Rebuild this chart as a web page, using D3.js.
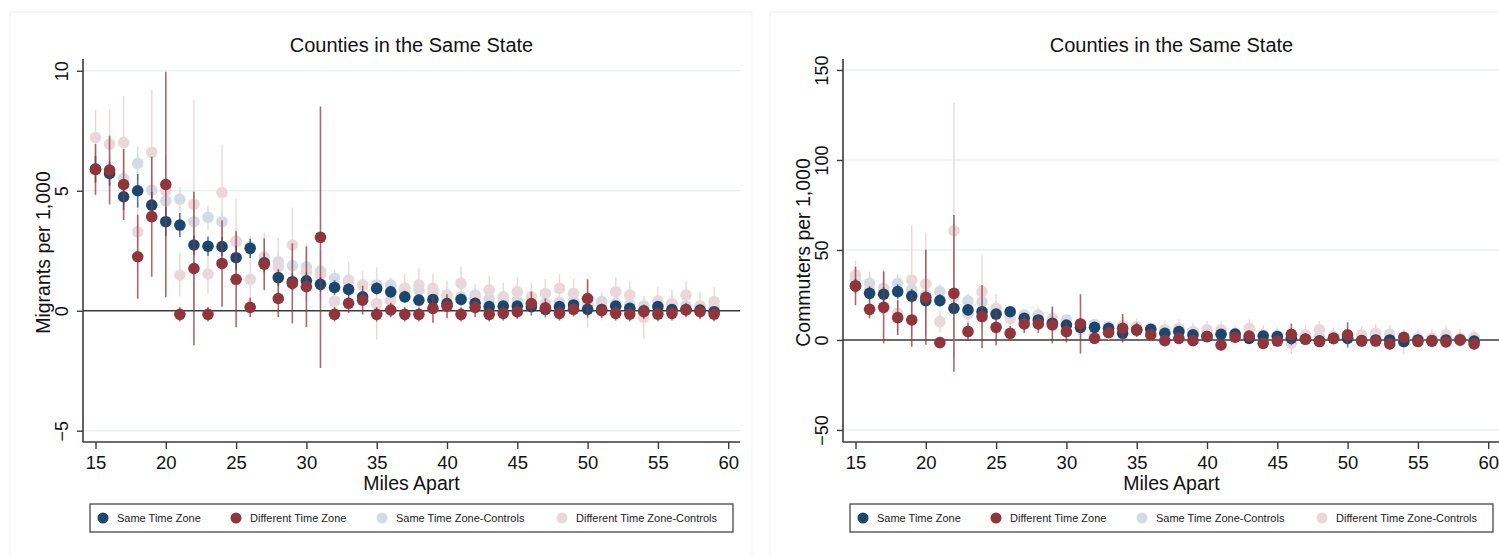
<!DOCTYPE html>
<html><head><meta charset="utf-8">
<script src="https://cdn.jsdelivr.net/npm/d3@7"></script>
<style>body{margin:0;background:#fff} svg{display:block} text{font-family:"Liberation Sans",Arial,Helvetica,sans-serif}</style>
</head><body><svg id="c" width="1499" height="556"></svg>
<script>
// ---------- DATA ----------
const miles = [15,16,17,18,19,20,21,22,23,24,25,26,27,28,29,30,31,32,33,34,35,36,37,38,39,40,41,42,43,44,45,46,47,48,49,50,51,52,53,54,55,56,57,58,59];
const xTicks = [15,20,25,30,35,40,45,50,55,60];
const seriesNames = ["Same Time Zone","Different Time Zone","Same Time Zone-Controls","Different Time Zone-Controls"];
const titleText = "Counties in the Same State";
const xTitle = "Miles Apart";

// Panel 1: Migrants per 1,000
const migYTicks = [-5,0,5,10];
const migSame     = [5.9,5.72,4.75,5.0,4.40,3.71,3.57,2.74,2.69,2.67,2.21,2.6,2.0,1.38,1.21,1.25,1.1,0.97,0.89,0.58,0.93,0.79,0.58,0.44,0.47,0.3,0.47,0.31,0.17,0.19,0.19,0.17,0.06,0.17,0.24,0.06,0.05,0.19,0.1,0.0,0.17,0.05,0.05,0.03,-0.04];
const migSameErr  = [0.55,0.5,0.55,0.7,0.55,0.6,0.5,0.4,0.4,0.4,0.5,0.4,0.4,0.35,0.35,0.35,0.3,0.3,0.25,0.25,0.25,0.25,0.25,0.25,0.2,0.2,0.25,0.2,0.2,0.2,0.2,0.2,0.2,0.2,0.2,0.2,0.2,0.2,0.2,0.2,0.2,0.2,0.2,0.2,0.2];
const migDiff     = [5.89,5.86,5.26,2.25,3.92,5.26,-0.15,1.76,-0.15,1.97,1.31,0.14,1.94,0.51,1.14,1.0,3.06,-0.15,0.31,0.44,-0.15,0.03,-0.15,-0.15,0.1,0.19,-0.15,0.14,-0.15,-0.11,-0.04,0.3,0.12,-0.11,0.06,0.51,0.0,-0.11,-0.14,-0.04,-0.14,-0.11,0.03,-0.04,-0.14];
const migDiffErr  = [1.06,1.43,1.48,1.75,2.5,4.7,0.3,3.2,0.3,1.8,2.0,0.4,1.07,0.77,1.67,1.68,5.45,0.3,0.4,0.6,0.3,0.3,0.3,0.3,0.6,0.5,0.3,0.4,0.3,0.3,0.3,0.5,0.4,0.3,0.3,0.8,0.3,0.3,0.3,0.3,0.3,0.3,0.3,0.3,0.3];
const migSameC    = [5.9,5.8,5.51,6.14,5.03,4.58,4.65,3.71,3.89,3.71,2.9,2.67,2.05,2.04,1.88,1.83,1.65,1.35,1.2,1.07,1.07,1.07,0.8,0.86,0.72,0.6,0.58,0.65,0.5,0.4,0.4,0.3,0.3,0.35,0.4,0.25,0.38,0.3,0.25,0.2,0.25,0.24,0.2,0.15,0.1];
const migSameCErr = [0.6,0.6,0.6,0.7,0.6,0.6,0.5,0.5,0.5,0.5,0.5,0.45,0.45,0.4,0.4,0.4,0.4,0.35,0.35,0.3,0.3,0.3,0.3,0.3,0.3,0.3,0.3,0.3,0.3,0.3,0.3,0.3,0.3,0.3,0.3,0.3,0.3,0.3,0.3,0.3,0.3,0.3,0.3,0.3,0.3];
const migDiffC    = [7.22,6.94,7.01,3.29,6.6,5.0,1.49,4.44,1.53,4.92,2.88,1.31,2.25,1.83,2.74,1.6,1.49,0.4,1.28,1.07,0.3,0.44,0.93,1.07,0.93,0.65,1.14,0.5,0.86,0.58,0.79,0.58,0.72,0.93,0.72,0.3,0.2,0.79,0.65,-0.28,0.4,0.3,0.65,0.2,0.38];
const migDiffCErr = [1.14,1.46,1.93,1.2,2.6,1.5,0.9,4.36,0.8,2.0,1.8,1.0,1.0,1.2,1.56,1.2,1.0,0.8,0.76,0.6,1.5,0.6,0.6,0.7,0.6,0.6,0.7,0.6,0.6,0.6,0.6,0.6,0.6,0.6,0.6,1.0,0.6,0.6,0.6,0.9,0.6,0.6,0.6,0.6,0.6];

// Panel 2: Commuters per 1,000
const comYTicks = [-50,0,50,100,150];
const comSame     = [30,25.9,25.4,26.9,24.4,21.9,21.9,17.6,16.7,15.7,14.4,15.7,12.0,11.1,9.3,8.3,7.0,7.0,6.5,3.7,5.5,5.9,3.7,4.6,2.8,1.9,3.1,3.3,0.9,2.2,1.9,0.9,0.5,-0.5,0.9,0.9,-0.3,0,0,-0.9,0,-0.4,0,0,-0.6];
const comSameErr  = [4,4,4,4,4,3.5,3.5,3,3,3,3,3,2.5,2.5,2.5,2.5,2,2,2,2,2,2,2,2,2,1.5,1.5,1.5,1.5,1.5,1.5,1.5,1.5,1.5,1.5,1.5,1.5,1.5,1.5,1.5,1.5,1.5,1.5,1.5,1.5];
const comDiff     = [30.0,17.0,18.1,12.4,11.1,23.7,-1.5,25.9,4.6,13.0,7.0,3.7,8.9,8.9,8.3,4.6,8.9,0.9,4.1,6.5,5.6,2.8,-0.4,0.9,-0.4,1.9,-2.8,1.5,2.2,-1.9,-0.6,3.1,0.4,-0.9,0.9,2.8,-0.6,-0.6,-2.2,1.5,-0.9,-0.6,-1.1,0,-2.2];
const comDiffErr  = [10.7,5,20,9.7,14.9,26.4,2,43.5,5,17.6,10,4,5,5,10.2,6,16.5,2,3,8,4,3,3,3,3,3,3,3,3,3,3,6,3,3,3,7,3,3,3,3,3,3,3,3,3];
const comSameC    = [33,31.5,28.7,31.5,28,25,26.9,24,21.7,21.1,16,15,13.9,13.9,11,11.1,9,8.5,7.5,6,7.4,6.5,5.5,5.5,4.5,4,4,3.5,3,2.5,2.6,2,1.5,1.5,1.5,1.5,1,1,1,0.5,0.8,0.5,0.5,0.5,1.5];
const comSameCErr = [5,5,5,5,5,4,4,4,4,4,3.5,3.5,3,3,3,3,3,2.5,2.5,2.5,2.5,2.5,2.5,2.5,2.5,2,2,2,2,2,2,2,2,2,2,2,2,2,2,2,2,2,2,2,2];
const comDiffC    = [36.1,28,27,14.8,33.3,31.1,10.2,60.7,14.8,26.9,17.6,12,10,12,12,9,6,3,5,8,7,4,5.6,6.5,4.6,5.6,5.6,3,6.5,3,2,-1.9,2.8,5.6,2,2,2.8,3.7,3.3,-1,1,1,2.8,1,1];
const comDiffCErr = [8,10,12,10,30.6,28.5,6,71,8,20,8,6,6,6,6,5,5,5,5,5,5,5,5,5,5,5,5,5,5,5,5,6,5,5,5,5,5,5,5,7,5,5,5,5,5];

// ---------- DRAWING ----------
const svg = d3.select("#c");
const colMain = ["#1a476f","#90353b"];
const colCtrl = ["#d3dce5","#ead7d9"];
const axisCol = "#3a3a3a";

const panels = [
  {ox:0, yDomain:[-5.47,10.49], yTicks:migYTicks, ylabel:"Migrants per 1,000",
   series:[[migSameC,migSameCErr,colCtrl[0],true],[migDiffC,migDiffCErr,colCtrl[1],true],
           [migSame,migSameErr,colMain[0],false],[migDiff,migDiffErr,colMain[1],false]]},
  {ox:760, yDomain:[-56.7,156.1], yTicks:comYTicks, ylabel:"Commuters per 1,000",
   series:[[comSameC,comSameCErr,colCtrl[0],true],[comDiffC,comDiffCErr,colCtrl[1],true],
           [comSame,comSameErr,colMain[0],false],[comDiff,comDiffErr,colMain[1],false]]}
];

panels.forEach(p => {
  const g = svg.append("g").attr("transform", `translate(${p.ox},0)`);
  g.append("rect").attr("x",10).attr("y",12).attr("width",742).attr("height",600)
    .attr("fill","none").attr("stroke","#efefef").attr("stroke-width",1);

  const axL = 83, axR = 740, axT = 59, axB = 442;
  const x = d3.scaleLinear().domain([14.11, 60.84]).range([axL, axR]);
  const y = d3.scaleLinear().domain(p.yDomain).range([axB, axT]);

  // gridlines
  g.append("g").selectAll("line").data(p.yTicks.filter(t => t !== 0)).join("line")
    .attr("x1", axL).attr("x2", axR).attr("y1", d => y(d)).attr("y2", d => y(d))
    .attr("stroke","#e9f0f2").attr("stroke-width",1.6);

  // title
  g.append("text").attr("x", (axL+axR)/2).attr("y", 51.5).attr("text-anchor","middle")
    .attr("font-size", 20).attr("fill","#111").text(titleText);

  // zero line
  g.append("line").attr("x1", axL).attr("x2", axR).attr("y1", y(0)).attr("y2", y(0))
    .attr("stroke", axisCol).attr("stroke-width", 1.6);

  // axes
  const yAxis = d3.axisLeft(y).tickValues(p.yTicks).tickSize(6).tickPadding(9).tickFormat(d3.format("d"));
  const ya = g.append("g").attr("transform", `translate(${axL},0)`).call(yAxis);
  ya.select(".domain").attr("stroke", axisCol).attr("stroke-width",1.6).attr("d", `M-0,${axT}V${axB}`);
  ya.selectAll(".tick line").attr("stroke", axisCol).attr("stroke-width",1.4);
  ya.selectAll(".tick text").attr("font-size",18).attr("fill","#111")
    .attr("text-anchor","middle").attr("x",null).attr("dy",null)
    .attr("transform","translate(-15,0) rotate(-90)").attr("y",0);

  const xAxis = d3.axisBottom(x).tickValues(xTicks).tickSize(7).tickPadding(7).tickFormat(d3.format("d"));
  const xa = g.append("g").attr("transform", `translate(0,${axB})`).call(xAxis);
  xa.select(".domain").attr("stroke", axisCol).attr("stroke-width",1.6).attr("d", `M${axL},0H${axR}`);
  xa.selectAll(".tick line").attr("stroke", axisCol).attr("stroke-width",1.4);
  xa.selectAll(".tick text").attr("font-size",18.5).attr("fill","#111").attr("dy","0.71em");

  // axis titles
  g.append("text").attr("x", (axL+axR)/2).attr("y", 490).attr("text-anchor","middle")
    .attr("font-size", 19.5).attr("fill","#111").text(xTitle);
  g.append("text").attr("transform", `translate(50,${(axT+axB)/2 + 2}) rotate(-90)`)
    .attr("text-anchor","middle").attr("font-size",19.5).attr("fill","#111").text(p.ylabel);

  // series
  p.series.forEach(([vals, errs, col, ctrl]) => {
    const pts = miles.map((m,i) => ({m, v: vals[i], e: errs[i]}));
    g.append("g").selectAll("line").data(pts).join("line")
      .attr("x1", d => x(d.m)).attr("x2", d => x(d.m))
      .attr("y1", d => y(d.v - d.e)).attr("y2", d => y(d.v + d.e))
      .attr("stroke", col).attr("stroke-width", ctrl ? 1.4 : 1.6)
      .attr("stroke-opacity", ctrl ? 1 : 0.75);
    g.append("g").selectAll("circle").data(pts).join("circle")
      .attr("cx", d => x(d.m)).attr("cy", d => y(d.v)).attr("r", 5.8).attr("fill", col);
  });

  // legend
  const lg = g.append("g");
  lg.append("rect").attr("x",90).attr("y",504).attr("width",643).attr("height",28)
    .attr("fill","#fff").attr("stroke","#555").attr("stroke-width",1.4);
  const legCols = [colMain[0], colMain[1], colCtrl[0], colCtrl[1]];
  const legX = [103, 236, 382, 562];
  seriesNames.forEach((n,i) => {
    lg.append("circle").attr("cx", legX[i]).attr("cy", 518).attr("r", 5.5).attr("fill", legCols[i]);
    lg.append("text").attr("x", legX[i] + 14).attr("y", 521.8).attr("font-size", 11)
      .attr("fill","#222").text(n);
  });
});
</script></body></html>
